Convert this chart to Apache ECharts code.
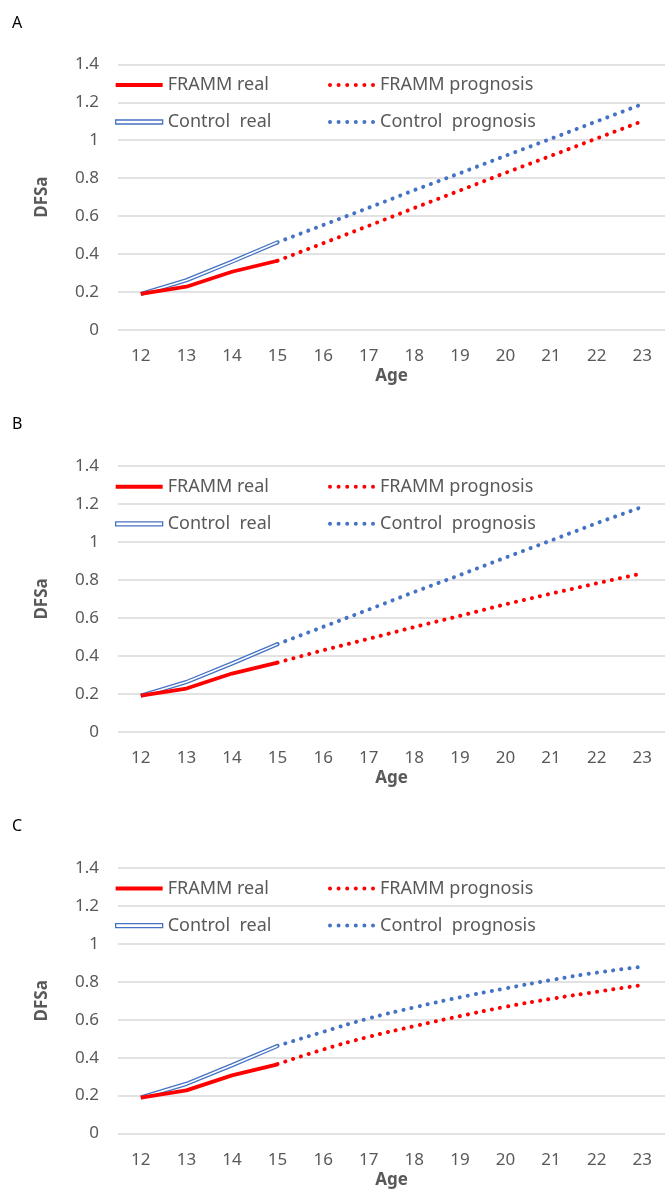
<!DOCTYPE html>
<html>
<head>
<meta charset="utf-8">
<script src="https://cdn.jsdelivr.net/npm/echarts@6/dist/echarts.min.js"></script>
<style>
html,body{margin:0;padding:0;background:#fff;}
#chart{width:665px;height:1190px;}
</style>
</head>
<body>
<div id="chart"></div>
<script>
// ---- data ----
var ages = ['12','13','14','15','16','17','18','19','20','21','22','23'];
var yTicks = [0, 0.2, 0.4, 0.6, 0.8, 1, 1.2, 1.4];
var panelLabels = ['A', 'B', 'C'];
var seriesNames = ['FRAMM real', 'FRAMM prognosis', 'Control  real', 'Control  prognosis'];

var frammReal   = [0.19, 0.228, 0.307, 0.365, null, null, null, null, null, null, null, null];
var controlReal = [0.19, 0.262, 0.360, 0.462, null, null, null, null, null, null, null, null];

var frammProgA   = [null, null, null, 0.365, 0.457, 0.549, 0.643, 0.735, 0.828, 0.918, 1.009, 1.100];
var controlProgA = [null, null, null, 0.462, 0.553, 0.644, 0.737, 0.826, 0.918, 1.008, 1.099, 1.190];

var frammProgB   = [null, null, null, 0.365, 0.430, 0.490, 0.552, 0.611, 0.672, 0.728, 0.782, 0.835];
var controlProgB = [null, null, null, 0.462, 0.553, 0.644, 0.737, 0.826, 0.918, 1.008, 1.099, 1.185];

var frammProgC   = [null, null, null, 0.366, 0.443, 0.510, 0.566, 0.619, 0.668, 0.710, 0.747, 0.783];
var controlProgC = [null, null, null, 0.462, 0.536, 0.607, 0.665, 0.718, 0.765, 0.809, 0.848, 0.879];

var prognosis = [
  {framm: frammProgA, control: controlProgA, smooth: false},
  {framm: frammProgB, control: controlProgB, smooth: false},
  {framm: frammProgC, control: controlProgC, smooth: true}
];

// ---- styles ----
var RED = '#FF0000', BLUE = '#4472C4', TXT = '#595959', GRID = '#d9d9d9';
var FONT = '"Noto Sans", "Open Sans", sans-serif';
var PANEL_STEP = 401.8;
var DOT = [0.1, 8.1];

function dotsPath() {
  var p = '';
  for (var i = 0; i < 6; i++) {
    var x = i * 8.6;
    p += 'M' + x + ',2a2,2 0 1,0 4,0a2,2 0 1,0 -4,0Z';
  }
  return 'path://' + p;
}
var DOTS = dotsPath();

var option = {
  animation: false,
  backgroundColor: '#fff',
  textStyle: {fontFamily: FONT},
  title: [], grid: [], xAxis: [], yAxis: [], legend: [], series: []
};

for (var k = 0; k < 3; k++) {
  var off = k * PANEL_STEP;
  option.title.push({
    text: panelLabels[k], left: 12, top: 15 + off, padding: 0,
    textStyle: {fontSize: 16, fontWeight: 'normal', color: '#000', fontFamily: FONT}
  });
  option.grid.push({left: 118, right: -7, top: 64.3 + off, height: 265.7, containLabel: false});
  option.xAxis.push({
    type: 'category', gridIndex: k, data: ages, boundaryGap: true,
    name: 'Age', nameLocation: 'middle', nameGap: 38,
    nameTextStyle: {fontSize: 17, fontWeight: 'bold', color: TXT, fontFamily: FONT},
    axisLine: {show: false}, axisTick: {show: false},
    axisLabel: {fontSize: 17, color: TXT, margin: 18, fontFamily: FONT, interval: 0},
    splitLine: {show: false}
  });
  option.yAxis.push({
    type: 'value', gridIndex: k, min: yTicks[0], max: yTicks[yTicks.length - 1], interval: 0.2,
    name: 'DFSa', nameLocation: 'middle', nameGap: 67,
    nameTextStyle: {fontSize: 17, fontWeight: 'bold', color: TXT, fontFamily: FONT},
    axisLine: {show: false}, axisTick: {show: false},
    axisLabel: {fontSize: 17, color: TXT, margin: 19, fontFamily: FONT},
    splitLine: {lineStyle: {color: GRID, width: 1.5}}
  });
  var legText = {fontSize: 18, color: TXT, fontFamily: FONT, lineHeight: 20};
  option.legend.push({
    orient: 'vertical', left: 115, top: 75 + off, padding: 0, itemGap: 17,
    itemWidth: 47, itemHeight: 4, selectedMode: false, textStyle: legText,
    data: [
      {name: seriesNames[0], icon: 'rect', itemStyle: {color: RED, borderWidth: 0}},
      {name: seriesNames[2], icon: 'rect', itemStyle: {color: '#fff', borderColor: BLUE, borderWidth: 1.3}}
    ]
  });
  option.legend.push({
    orient: 'vertical', left: 328, top: 75 + off, padding: 0, itemGap: 17,
    itemWidth: 47, itemHeight: 4, selectedMode: false, textStyle: legText,
    data: [
      {name: seriesNames[1], icon: DOTS, itemStyle: {color: RED, borderWidth: 0}},
      {name: seriesNames[3], icon: DOTS, itemStyle: {color: BLUE, borderWidth: 0}}
    ]
  });
  var pg = prognosis[k];
  option.series.push(
    {name: seriesNames[3], type: 'line', xAxisIndex: k, yAxisIndex: k, data: pg.control,
     smooth: pg.smooth, symbol: 'none', color: BLUE,
     lineStyle: {color: BLUE, width: 4, type: DOT, cap: 'round'}},
    {name: seriesNames[1], type: 'line', xAxisIndex: k, yAxisIndex: k, data: pg.framm,
     smooth: pg.smooth, symbol: 'none', color: RED,
     lineStyle: {color: RED, width: 4, type: DOT, cap: 'round'}},
    {name: seriesNames[2], type: 'line', xAxisIndex: k, yAxisIndex: k, data: controlReal,
     symbol: 'none', color: BLUE, lineStyle: {color: BLUE, width: 4.2}},
    {name: 'Control inner', type: 'line', xAxisIndex: k, yAxisIndex: k, data: controlReal,
     symbol: 'none', color: '#fff', lineStyle: {color: '#fff', width: 1.6}},
    {name: seriesNames[0], type: 'line', xAxisIndex: k, yAxisIndex: k, data: frammReal,
     symbol: 'none', color: RED, lineStyle: {color: RED, width: 3.8}}
  );
}

var chart = echarts.init(document.getElementById('chart'), null, {renderer: 'canvas'});
chart.setOption(option);
</script>
</body>
</html>
